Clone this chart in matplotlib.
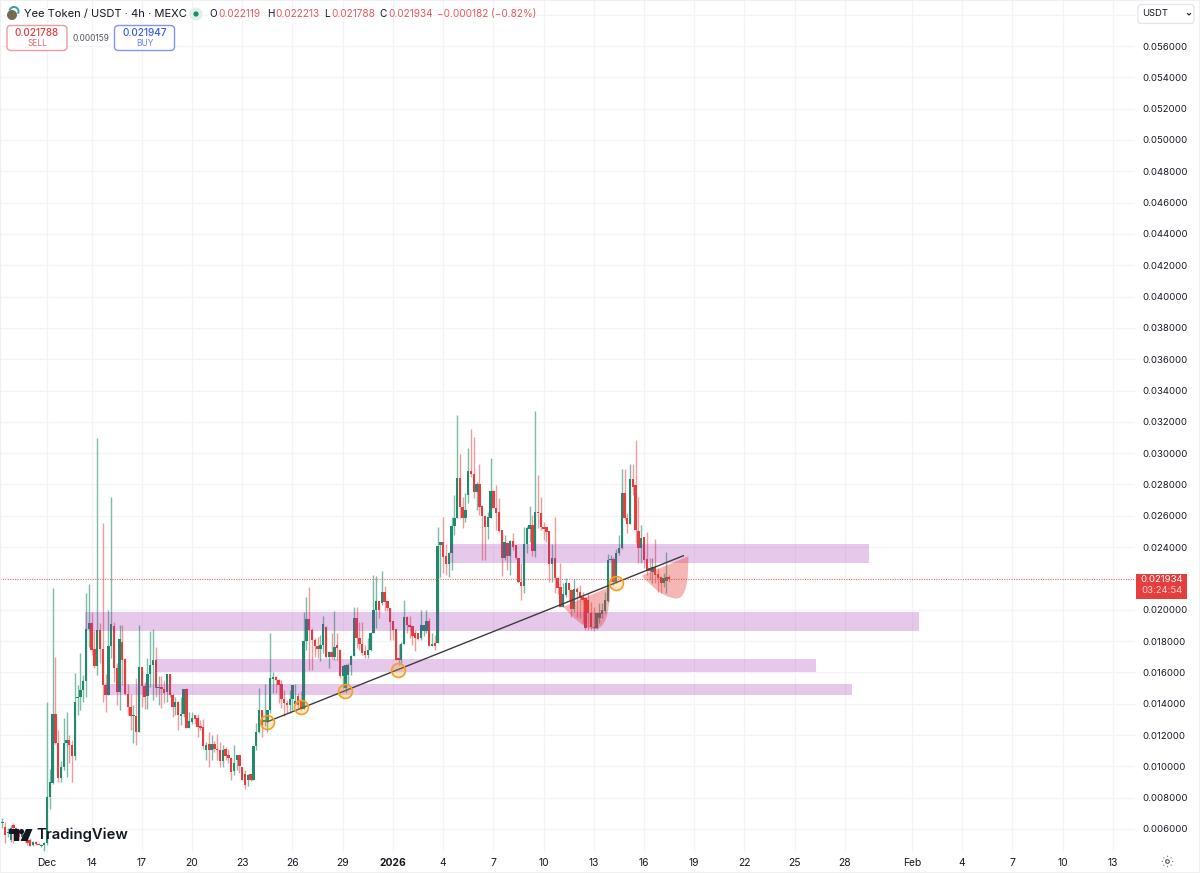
import numpy as np
import matplotlib
matplotlib.use("Agg")
import matplotlib.pyplot as plt
from matplotlib.patches import Circle, Rectangle, FancyBboxPatch, PathPatch, Polygon, Arc
from matplotlib.path import Path

plt.rcParams['font.family'] = ['Inter', 'DejaVu Sans']

# 4h candles, prices in thousandths of USDT
opens = [6.36,6.15,5.73,5.30,6.26,6.04,5.83,5.50,5.70,5.30,
    5.30,4.98,5.19,5.04,4.92,4.98,5.09,8.07,8.92,13.34,
    11.47,9.23,9.94,11.51,11.68,11.36,10.66,14.34,14.45,14.87,
    15.47,18.77,19.13,17.49,16.43,18.71,17.47,15.19,14.58,17.68,
    18.96,16.26,14.77,17.96,16.83,14.64,13.81,13.21,13.21,12.21,
    16.32,15.13,14.49,15.87,16.45,16.77,15.00,15.06,14.96,14.77,
    15.87,14.58,13.81,14.11,13.21,13.36,14.96,12.45,12.83,13.26,
    13.11,12.55,12.51,11.02,11.45,11.02,11.45,11.13,11.02,10.32,
    11.13,10.72,10.55,9.68,10.38,10.70,9.96,9.53,9.11,9.53,
    9.11,11.28,12.17,13.57,12.83,12.83,13.57,15.57,15.70,15.53,
    15.26,14.32,14.04,13.94,14.30,14.0,14.51,14.15,13.66,17.98,
    19.43,18.72,18.09,17.70,17.49,17.77,18.89,16.98,17.28,16.98,
    17.72,17.45,15.74,15.0,15.85,16.49,17.06,19.49,18.19,17.81,
    17.34,17.13,17.40,18.51,19.96,20.53,20.43,21.11,20.53,20.11,
    19.26,18.77,16.91,16.81,17.83,19.51,19.0,18.98,18.51,18.51,
    18.19,18.62,18.62,19.26,17.66,17.87,17.85,24.13,24.34,23.43,
    22.91,23.60,25.34,25.89,28.43,26.57,25.83,27.32,28.85,28.70,
    27.53,28.06,26.62,26.0,25.30,25.89,27.60,26.47,26.26,25.09,
    23.32,24.28,23.45,24.38,24.13,23.28,21.79,21.53,24.19,25.13,
    25.40,23.77,26.26,26.19,25.30,25.26,25.02,22.91,23.32,22.0,
    21.43,20.19,20.94,21.72,21.26,20.02,21.30,21.15,20.83,20.72,
    20.62,19.77,18.91,18.81,19.45,19.72,19.94,20.55,23.17,23.21,
    21.79,23.60,23.96,27.47,25.83,25.45,28.34,27.96,25.04,23.94,
    24.62,23.21,22.64,22.43,22.74,22.28,22.11,21.68,21.85,22.119]
closes = [6.47,5.62,5.83,6.04,6.04,5.83,5.50,5.70,5.30,5.10,
    4.92,5.19,5.04,4.98,5.00,5.09,8.07,8.98,13.34,11.47,
    9.23,9.98,11.51,11.68,11.36,10.66,14.11,14.45,14.87,15.47,
    18.77,19.13,17.43,16.43,18.71,17.47,15.19,14.58,17.68,19.09,
    16.26,14.77,18.11,16.79,14.60,13.81,13.21,13.28,12.21,16.32,
    15.13,14.45,15.87,16.45,16.77,15.03,15.06,14.96,14.68,15.87,
    14.58,13.81,14.11,13.28,13.36,14.96,12.45,12.89,13.11,13.04,
    12.51,12.45,11.30,11.34,11.02,11.45,11.13,11.02,10.36,11.06,
    10.66,10.51,9.66,10.21,10.70,10.0,9.15,8.83,9.47,9.11,
    11.28,12.17,13.57,12.66,12.94,13.57,15.64,15.70,15.53,15.21,
    14.32,14.04,13.94,14.30,15.17,14.15,13.94,13.66,17.98,19.43,
    18.68,18.04,17.66,17.49,17.77,19.11,16.98,17.28,16.98,17.62,
    17.55,15.74,16.43,16.45,16.49,17.06,19.49,18.19,17.81,17.23,
    17.13,17.40,18.51,19.96,20.53,20.0,21.11,20.47,20.11,19.19,
    18.72,16.81,16.81,17.83,19.51,19.0,18.89,18.34,18.19,18.13,
    19.04,19.04,19.26,17.70,17.81,17.70,24.06,24.34,23.38,22.91,
    23.60,25.34,25.89,28.43,26.57,25.83,26.40,28.85,28.66,27.53,
    28.06,26.57,26.0,25.30,25.94,27.60,26.47,26.15,25.04,23.32,
    24.34,23.45,24.38,24.02,23.28,21.79,21.53,24.19,25.23,25.40,
    23.77,26.26,26.15,25.26,25.13,24.98,22.91,23.32,22.0,21.36,
    20.15,20.98,21.68,21.26,20.02,21.30,21.15,20.72,20.62,18.81,
    19.77,18.91,18.81,19.77,19.77,19.98,20.62,23.17,23.21,21.79,
    23.60,23.96,27.47,25.83,25.45,28.34,27.85,25.09,23.96,24.57,
    23.17,22.53,22.49,22.74,22.21,22.0,21.68,22.0,22.11,21.934]
highs = [6.68,6.47,6.04,6.26,6.36,6.10,5.95,5.85,5.80,5.45,
    5.40,5.26,5.22,5.08,5.07,5.19,14.11,9.80,21.36,16.96,
    12.32,10.36,13.06,13.49,12.0,11.68,15.96,15.19,17.25,15.83,
    21.04,21.62,19.87,18.71,31.0,19.13,25.51,15.92,19.98,27.17,
    19.23,16.58,19.02,19.02,16.90,15.28,14.64,13.92,15.62,19.02,
    16.36,15.41,16.89,18.66,18.79,17.60,15.77,15.77,15.51,15.87,
    15.90,14.64,14.45,14.17,14.45,14.96,15.0,13.47,13.47,13.26,
    13.36,12.94,13.04,11.55,12.19,12.0,11.6,12.04,11.57,11.36,
    11.23,11.13,10.62,11.36,10.70,10.72,9.96,9.79,9.53,9.53,
    11.32,12.77,15.0,13.62,15.26,13.62,18.51,16.0,15.79,15.57,
    15.53,14.89,14.26,14.89,15.21,15.26,14.68,14.79,19.83,20.81,
    21.45,18.83,18.19,18.26,18.40,19.62,18.94,17.34,18.51,19.89,
    18.51,17.49,16.49,16.55,16.60,17.13,20.17,20.17,19.19,19.19,
    17.77,18.19,18.55,22.23,22.13,20.53,22.45,21.49,20.53,20.11,
    19.26,18.77,17.81,17.91,20.64,19.57,19.57,18.98,18.72,18.51,
    20.0,19.04,20.0,19.47,18.51,18.40,25.30,24.34,25.94,24.23,
    23.70,25.94,27.32,32.43,29.94,27.21,27.47,30.34,31.57,31.04,
    28.17,29.28,26.68,26.04,26.26,29.66,27.64,27.96,27.11,25.09,
    24.77,24.34,24.45,24.87,24.13,23.28,22.96,25.30,25.34,26.62,
    26.04,32.68,28.60,27.21,25.62,25.30,25.02,24.23,25.94,22.11,
    22.96,21.72,22.04,21.72,21.30,21.94,21.47,21.57,21.15,20.83,
    21.09,20.51,20.19,19.77,20.40,20.40,21.15,23.55,23.49,23.38,
    23.91,24.77,28.96,29.02,26.15,29.34,29.34,30.87,27.21,25.40,
    24.62,24.98,23.28,23.28,24.51,22.64,22.11,22.32,23.66,22.213]
lows = [6.04,5.09,5.51,5.19,5.09,5.60,5.30,5.35,5.15,4.95,
    4.90,4.92,5.00,4.95,4.85,4.59,5.00,7.28,8.90,11.45,
    9.02,9.02,9.77,9.34,10.19,9.02,10.40,13.28,13.60,14.11,
    14.45,17.64,17.11,16.26,15.83,16.58,14.11,13.47,14.55,16.89,
    15.41,13.92,13.60,15.19,14.55,13.28,12.32,11.47,11.36,12.19,
    13.81,13.66,13.66,15.06,14.26,14.45,13.92,13.70,14.02,14.11,
    14.45,13.17,13.28,12.32,12.64,13.17,12.42,12.42,12.72,12.72,
    11.87,12.30,11.13,10.38,9.98,10.40,10.9,10.40,9.98,9.98,
    10.40,10.19,9.15,9.45,9.75,9.57,9.15,8.55,8.77,9.04,
    9.11,11.06,12.13,11.87,12.55,12.17,13.40,14.68,14.68,14.04,
    13.72,13.23,13.40,13.40,13.62,13.94,13.72,13.62,13.66,17.45,
    16.17,16.17,17.0,16.91,16.70,17.23,16.91,16.28,16.85,16.81,
    16.81,15.64,15.0,14.68,15.21,15.85,17.02,17.55,17.45,17.13,
    16.91,16.91,17.34,18.51,18.83,19.47,20.32,19.89,19.89,18.04,
    18.09,16.77,16.49,16.60,17.83,18.51,18.19,17.77,17.34,18.04,
    18.09,18.34,18.51,17.66,17.66,17.45,17.85,22.11,22.32,22.21,
    22.11,22.53,24.77,25.89,25.83,25.19,25.62,26.79,28.45,27.11,
    26.36,26.04,23.17,23.17,24.55,25.83,26.47,25.09,24.98,22.15,
    23.17,22.53,22.21,23.81,23.21,21.68,20.62,21.09,23.60,24.34,
    23.43,23.38,25.19,25.09,24.45,24.34,21.79,21.79,21.04,21.0,
    20.15,20.19,20.83,20.62,19.55,19.87,19.55,19.45,19.13,18.70,
    18.70,18.70,18.66,18.74,19.13,19.45,19.77,20.51,21.79,21.57,
    21.72,23.49,23.91,25.72,24.87,25.45,27.32,24.25,22.96,22.96,
    22.64,22.21,21.89,21.68,21.68,21.15,21.09,21.47,21.09,21.788]

# x axis: bar number of each date label
date_labels = ['Dec','14','17','20','23','26','29','2026','4','7','10','13','16',
               '19','22','25','28','Feb','4','7','10','13']
date_bars = [16,32,50,68,86,104,122,140,158,176,194,212,230,
             248,266,284,302,326,344,362,380,398]
price_ticks = [k*2 for k in range(3, 30)]
hidden_ticks = [22, 58]  # behind the price flag and the currency selector

# drawings: zones as (first bar, last bar, top, bottom)
zones = [(160.4,310.6,24.20,22.97),
         (29.6,328.6,19.88,18.64),
         (54.7,291.6,16.84,16.04),
         (36.8,304.5,15.26,14.56)]
trend_bars = [95.0,244.1]
trend_prices = [12.85,23.45]
touch_bars = [95.0,106.9,122.9,141.8,219.8]
touch_prices = [12.85,13.77,14.83,16.15,21.71]
arc1_bars = [201.1,204.7,208.3,211.8,216.0,217.8,217.8]
arc1_prices = [20.19,19.44,18.87,18.78,18.66,19.76,21.47]
arc2_bars = [229.2,232.8,237.0,241.1,245.3,245.9,245.9]
arc2_prices = [22.17,21.47,20.79,20.72,20.62,21.89,23.42]
last_price = 0.021934

W, H = 1200, 873
UP = '#1f8a6d'
DOWN = '#e53e3e'
UP_WICK = '#7cbba8'
DOWN_WICK = '#f09c9c'
GRID = '#f4f4f6'
TEXT = '#131722'

fig = plt.figure(figsize=(12, 8.73), dpi=100, facecolor='white')
ax = fig.add_axes([0, 21/H, 1135/W, 852/H])

o = np.array(opens)*1e-3
c = np.array(closes)*1e-3
h = np.array(highs)*1e-3
l = np.array(lows)*1e-3
bars = np.arange(len(o))
up = c >= o

ax.vlines(bars[up], l[up], h[up], color=UP_WICK, lw=1.0, zorder=2)
ax.vlines(bars[~up], l[~up], h[~up], color=DOWN_WICK, lw=1.0, zorder=2)
ax.bar(bars[up], (c-o)[up], bottom=o[up], width=0.85, color=UP, zorder=3)
ax.bar(bars[~up], (c-o)[~up], bottom=o[~up], width=0.85, color=DOWN, zorder=3)

ax.axhline(last_price, color='#e8555a', lw=0.7, ls=(0, (1, 1.5)), zorder=4)

for x0, x1, top, bottom in zones:
    ax.add_patch(Rectangle((x0, bottom*1e-3), x1-x0, (top-bottom)*1e-3,
                           fc='#9c27b0', alpha=0.25, ec='none', zorder=5))

codes = [Path.MOVETO] + [Path.CURVE4]*6 + [Path.CLOSEPOLY]
for xs, ys in [(arc1_bars, arc1_prices), (arc2_bars, arc2_prices)]:
    verts = [(a, b*1e-3) for a, b in zip(xs, ys)] + [(xs[0], ys[0]*1e-3)]
    ax.add_patch(PathPatch(Path(verts, codes), fc='#e53935', alpha=0.36, ec='none', zorder=6))

ax.plot(trend_bars, np.array(trend_prices)*1e-3, color='#3c3c3c', lw=1.0, zorder=7)
ax.scatter(touch_bars, np.array(touch_prices)*1e-3, s=100, facecolor='#f59f1f40',
           edgecolor='#f2a02a', linewidth=1.2, zorder=8)

ax.set_xlim(-0.835, 405.97)
ax.set_ylim(0.00453, 0.05894)
ax.set_xticks(date_bars)
ax.set_xticklabels(date_labels)
ax.set_yticks([p*1e-3 for p in price_ticks])
ax.set_yticklabels(['' if p in hidden_ticks else f'{p*1e-3:.6f}' for p in price_ticks])
ax.yaxis.tick_right()
ax.tick_params(axis='both', length=0, labelcolor=TEXT)
ax.tick_params(axis='x', pad=4, labelsize=7.4)
ax.tick_params(axis='y', pad=5, labelsize=6.9)
ax.xaxis.get_ticklabels()[7].set_fontweight('bold')
ax.grid(True, color=GRID, lw=0.9)
ax.set_axisbelow(True)
for s in ax.spines.values():
    s.set_visible(False)

# screen furniture, in picture pixels
ui = fig.add_axes([0, 0, 1, 1], facecolor='none', zorder=10)
ui.set_xlim(0, W)
ui.set_ylim(H, 0)
ui.axis('off')

ui.add_patch(Rectangle((0, 0), W, H, fill=False, ec='#f0f0f1', lw=1.5))

# symbol line
ui.add_patch(Circle((12, 15), 5, fc='#6f6c52', ec='none'))
ui.add_patch(Arc((14, 11.5), 9, 9, theta1=190, theta2=30, ec='#3f9aa5', lw=1.4))
ui.text(24, 14, 'Yee Token / USDT · 4h · MEXC', fontsize=8.0, color=TEXT, va='center')
ui.add_patch(Circle((196, 14), 6.5, fc='#dff0ea', ec='none'))
ui.add_patch(Circle((196, 14), 2.6, fc=UP, ec='none'))
RED_TXT = '#e45a5f'
for letter, xl, val, xv in [('O', 209.5, '0.022119', 218), ('H', 267, '0.022213', 275),
                            ('L', 324.5, '0.021788', 331), ('C', 379.5, '0.021934', 388)]:
    ui.text(xl, 14, letter, fontsize=7.2, color=TEXT, va='center')
    ui.text(xv, 14, val, fontsize=7.2, color=RED_TXT, va='center')
ui.text(437, 14, '\u22120.000182 (\u22120.82%)', fontsize=7.2, color=RED_TXT, va='center')

# sell / buy
ui.add_patch(FancyBboxPatch((7, 25.5), 60, 25, boxstyle='round,pad=0,rounding_size=4',
                            fc='white', ec='#ef9a9d', lw=1))
ui.text(37, 32.5, '0.021788', fontsize=7.2, color='#e53e3e', ha='center', va='center', fontweight='medium')
ui.text(37, 43.5, 'SELL', fontsize=6, color='#e8666a', ha='center', va='center')
ui.text(90.5, 38.5, '0.000159', fontsize=6, color='#50535e', ha='center', va='center')
ui.add_patch(FancyBboxPatch((114.5, 25.5), 60, 25, boxstyle='round,pad=0,rounding_size=4',
                            fc='white', ec='#7f94f5', lw=1))
ui.text(144.5, 32.5, '0.021947', fontsize=7.2, color='#3b5bf0', ha='center', va='center', fontweight='medium')
ui.text(144.5, 43.5, 'BUY', fontsize=6, color='#6a80f2', ha='center', va='center')

# currency selector
ui.add_patch(FancyBboxPatch((1138, 4.5), 56, 19, boxstyle='round,pad=0,rounding_size=3',
                            fc='white', ec='#e3e5ea', lw=0.9))
ui.text(1142, 14, 'USDT', fontsize=6.8, color=TEXT, va='center')
ui.plot([1187.5, 1189, 1190.5], [13.5, 15, 13.5], color=TEXT, lw=0.8)

# last price flag
ui.add_patch(Rectangle((1136, 573.5), 51, 25, fc='#e53e3e', ec='none'))
ui.text(1161.5, 580, '0.021934', fontsize=6.9, color='white', ha='center', va='center')
ui.text(1161.5, 590.5, '03:24:54', fontsize=6.9, color='#fbd0d0', ha='center', va='center')

# TradingView mark
ui.add_patch(Polygon([(9, 829), (18.5, 829), (18.5, 841), (14, 841), (14, 833.5), (9, 833.5)], fc='#131722', ec='none'))
ui.add_patch(Circle((21.5, 831.6), 2.6, fc='#131722', ec='none'))
ui.add_patch(Polygon([(26, 829), (32.5, 829), (27.5, 841), (20.5, 841)], fc='#131722', ec='none'))
ui.text(36.5, 835, 'TradingView', fontsize=10.7, color='#131722', va='center', fontweight='semibold')

# settings gear
ui.plot([1167], [861], marker=(8, 1, 0), ms=9, mfc='#50535e', mec='none')
ui.plot([1167], [861], marker='o', ms=6.6, mfc='white', mec='none')
ui.plot([1167], [861], marker='o', ms=2.6, mfc='white', mec='#50535e', mew=0.8)

fig.savefig('out.png', dpi=100, facecolor='white')
